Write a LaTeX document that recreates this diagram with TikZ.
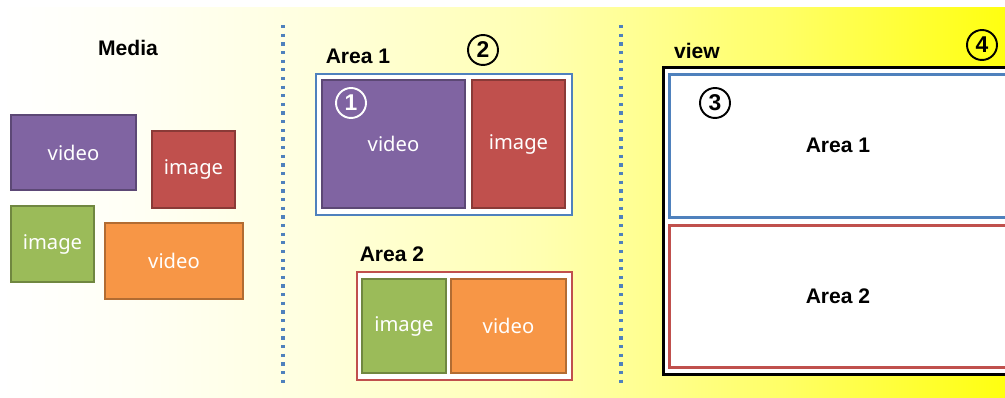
\documentclass[tikz,border=0pt]{standalone}
\usepackage{fontspec}
\setmainfont{Noto Sans}
\setsansfont{Noto Sans}
\newfontfamily\headfont{Liberation Sans}
\usetikzlibrary{positioning}
\definecolor{cpurple}{HTML}{8064A2}
\definecolor{cred}{HTML}{C0504D}
\definecolor{cgreen}{HTML}{9BBB59}
\definecolor{corange}{HTML}{F79646}
\definecolor{cblue}{HTML}{4F81BD}
\definecolor{ylwA}{HTML}{FFFFF4}
\definecolor{ylwB}{HTML}{FFFFE0}
\definecolor{ylwC}{HTML}{FFFFB0}
\definecolor{ylwD}{HTML}{FFFF66}
\definecolor{ylwE}{HTML}{FFFF10}
% paper: white on the left, yellow on the right
\pgfdeclarehorizontalshading{paper}{100bp}{color(0bp)=(white); color(25bp)=(white);
  color(32bp)=(ylwA); color(40bp)=(ylwB); color(52bp)=(ylwC); color(64bp)=(ylwD);
  color(75bp)=(ylwE); color(100bp)=(ylwE)}
\tikzset{
  every picture/.style={font=\sffamily},
  media/.style={draw=#1!72!black, fill=#1, line width=1.2pt, text=white, inner sep=0pt,
    font=\sffamily\fontsize{11.5}{13}\selectfont},
  area/.style={draw=#1, fill=white, line width=1.6pt, inner sep=0pt},
  title/.style={font=\headfont\bfseries\fontsize{12}{14}\selectfont},
  num/.style={circle, draw=#1, text=#1, line width=1.1pt, minimum size=0.6cm, inner sep=0pt,
    font=\headfont\bfseries\fontsize{13}{14}\selectfont},
  num/.default=black,
  sep/.style={draw=cblue, line width=0.065cm, dash pattern=on 0.065cm off 0.108cm},
}

\begin{document}
\begin{tikzpicture}[x=0.02cm, y=-0.02cm]
  \path[use as bounding box] (0,0) rectangle (1005,398);
  \clip (0,0) rectangle (1005,398);
  \shade[shading=paper] (0,8) rectangle (1005,398);

  % loose media
  \node[title] (media) at (128,48) {Media};
  \node[media=cpurple, minimum width=2.5cm, minimum height=1.5cm] (v1) at (73.5,152.5) {video};
  \node[media=cred, minimum width=1.66cm, minimum height=1.54cm] (i1) at (193.5,169.5) {image};
  \node[media=cgreen, minimum width=1.66cm, minimum height=1.52cm] (i2) at (52.5,244) {image};
  \node[media=corange, minimum width=2.76cm, minimum height=1.52cm] (v2) at (174,261) {video};

  \foreach \x in {283,621} \draw[sep] (\x,25) -- (\x,385);

  % areas holding media
  \node[area=cblue, minimum width=5.12cm, minimum height=2.82cm] (a1) at (444,144.5) {};
  \node[media=cpurple, minimum width=2.86cm, minimum height=2.56cm] (v3) at (393.5,144) {video};
  \node[media=cred, minimum width=1.86cm, minimum height=2.56cm] (i3) at (518.5,144) {image};
  \node[title] (a1t) at (358,56) {Area 1};
  \node[num] (n2) at (483,50) {2};
  \node[num=white] (n1) at (351,103) {1};

  \node[area=cred, minimum width=4.3cm, minimum height=2.16cm] (a2) at (464.5,326) {};
  \node[media=cgreen, minimum width=1.68cm, minimum height=1.88cm] (i4) at (404,326) {image};
  \node[media=corange, minimum width=2.3cm, minimum height=1.88cm] (v4) at (508.5,326) {video};
  \node[title] (a2t) at (392,254) {Area 2};

  % the view with both areas laid out
  \node[draw=black, fill=white, line width=1.8pt, anchor=north west, inner sep=0pt,
    minimum width=7.16cm, minimum height=6.14cm] (view) at (662,66) {};
  \node[title] (vt) at (697,51) {view};
  \node[num] (n4) at (982,45) {4};
  \node[area=cblue, anchor=north west, minimum width=7.04cm, minimum height=2.86cm] (va1) at (668,73) {};
  \node[area=cred, anchor=north west, minimum width=7.04cm, minimum height=2.84cm] (va2) at (668,224) {};
  \node[title] at (838,145) {Area 1};
  \node[title] at (838,296) {Area 2};
  \node[num] (n3) at (715,103) {3};
\end{tikzpicture}
\end{document}
